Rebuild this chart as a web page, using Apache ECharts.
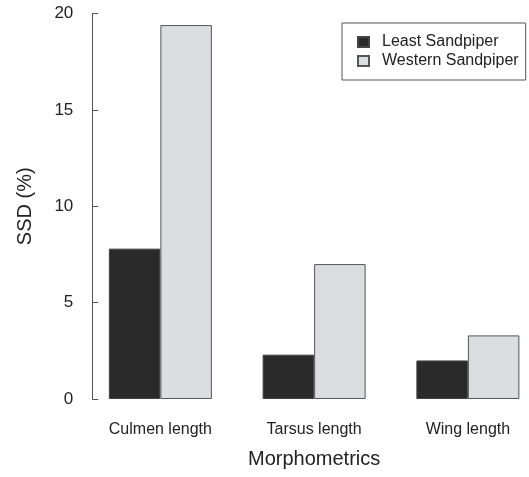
<!DOCTYPE html>
<html>
<head>
<meta charset="utf-8">
<script src="https://cdn.jsdelivr.net/npm/echarts@6/dist/echarts.min.js"></script>
<style>html,body{margin:0;padding:0;background:#fff;}#c{width:529px;height:477px;}</style>
</head>
<body>
<div id="c"></div>
<script>
const categories = ['Culmen length', 'Tarsus length', 'Wing length'];
const leastValues = [7.8, 2.3, 2.0];
const westernValues = [19.4, 7.0, 3.3];
const seriesNames = ['Least Sandpiper', 'Western Sandpiper'];
const yTicks = [0, 5, 10, 15, 20];

const font = 'Liberation Sans, Arial, sans-serif';
const chart = echarts.init(document.getElementById('c'));
chart.setOption({
  animation: false,
  backgroundColor: '#fff',
  textStyle: { fontFamily: font, color: '#222' },
  grid: { left: 83.5, width: 461.25, top: 13.5, bottom: 78, outerBoundsMode: 'none' },
  legend: {
    orient: 'vertical',
    left: 342, top: 23,
    width: 170,
    padding: [11, 7, 11, 15],
    itemGap: 3,
    itemWidth: 11, itemHeight: 10,
    icon: 'rect',
    borderColor: '#555', borderWidth: 1,
    textStyle: { fontSize: 16, color: '#222', fontFamily: font, padding: [0, 0, 0, 8] },
    data: seriesNames
  },
  xAxis: {
    type: 'category',
    data: categories,
    axisLine: { show: false },
    axisTick: { show: false },
    axisLabel: { fontSize: 16, color: '#222', margin: 23, fontFamily: font },
    name: 'Morphometrics',
    nameLocation: 'middle',
    nameGap: 50,
    nameTextStyle: { fontSize: 20, color: '#222', fontFamily: font }
  },
  yAxis: {
    type: 'value',
    min: yTicks[0], max: yTicks[yTicks.length - 1], interval: 5,
    offset: -8.8,
    axisLine: { show: true, lineStyle: { color: '#555', width: 1 } },
    axisTick: { show: true, inside: true, length: 6, lineStyle: { color: '#555' } },
    splitLine: { show: false },
    axisLabel: { fontSize: 17, color: '#222', margin: 19, fontFamily: font },
    name: 'SSD (%)',
    nameLocation: 'middle',
    nameGap: 57,
    nameTextStyle: { fontSize: 20, color: '#222', fontFamily: font }
  },
  series: [
    {
      name: seriesNames[0], type: 'bar', data: leastValues,
      barGap: '0%', barCategoryGap: '33%',
      itemStyle: { color: '#2a2a2a', borderColor: '#444', borderWidth: 1 }
    },
    {
      name: seriesNames[1], type: 'bar', data: westernValues,
      barGap: '0%', barCategoryGap: '33%',
      itemStyle: { color: '#dcdde0', borderColor: '#555', borderWidth: 1 }
    }
  ]
});
</script>
</body>
</html>
